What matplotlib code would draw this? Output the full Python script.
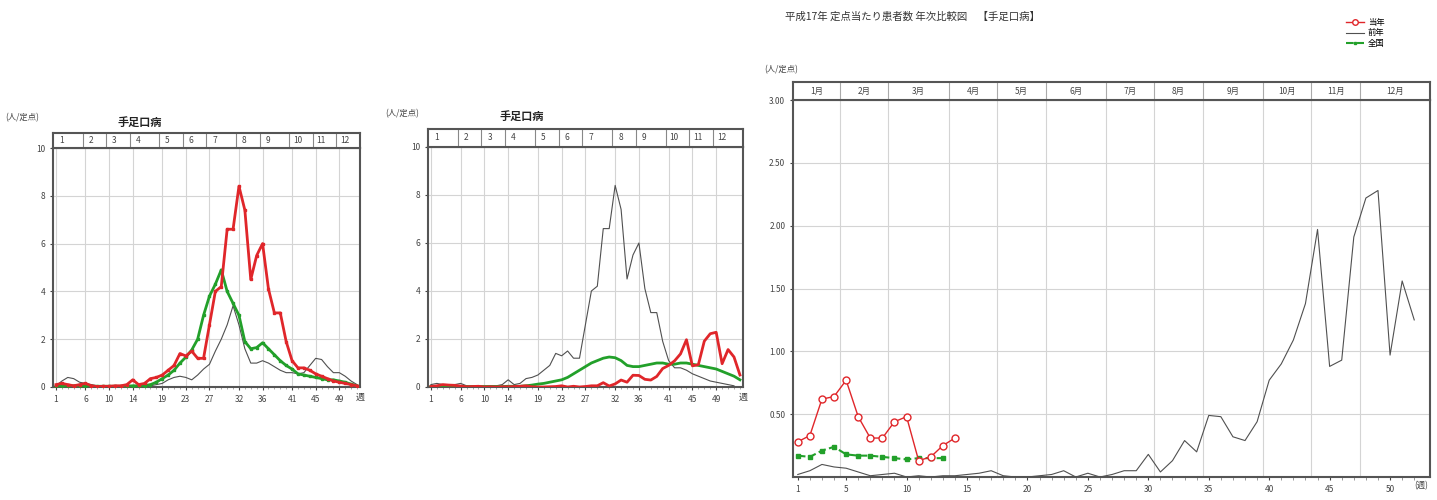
import matplotlib
matplotlib.use("Agg")
import matplotlib.pyplot as plt
import matplotlib.transforms as mtransforms
import numpy as np

plt.rcParams['font.family'] = ['Noto Sans CJK JP', 'DejaVu Sans']

# ---- data (人/定点, weekly) ----
# 2002 (left chart, thin line)
y2002 = [0.05, 0.25, 0.4, 0.35, 0.2, 0.15, 0.1, 0.05, 0.05, 0.05,
         0.03, 0.03, 0.05, 0.05, 0.05, 0.05, 0.05, 0.1, 0.15, 0.3,
         0.4, 0.45, 0.4, 0.3, 0.5, 0.75, 0.95, 1.5, 2.0, 2.6,
         3.4, 2.6, 1.6, 1.0, 1.0, 1.1, 1.0, 0.85, 0.7, 0.6,
         0.6, 0.55, 0.6, 0.9, 1.2, 1.15, 0.85, 0.6, 0.6, 0.45,
         0.25, 0.1]
# 2003 (left chart red, middle chart thin line)
y2003 = [0.1, 0.15, 0.1, 0.05, 0.1, 0.15, 0.05, 0.02, 0.03, 0.03,
         0.05, 0.05, 0.1, 0.3, 0.1, 0.15, 0.35, 0.4, 0.5, 0.7,
         0.9, 1.4, 1.3, 1.5, 1.2, 1.2, 2.6, 4.0, 4.2, 6.6,
         6.6, 8.4, 7.4, 4.5, 5.5, 6.0, 4.1, 3.1, 3.1, 1.9,
         1.1, 0.8, 0.8, 0.7, 0.55, 0.45, 0.35, 0.25, 0.2, 0.15,
         0.1, 0.05]
nat2003 = [0.03, 0.04, 0.05, 0.05, 0.05, 0.04, 0.03, 0.03, 0.03, 0.03,
           0.03, 0.03, 0.04, 0.05, 0.05, 0.06, 0.1, 0.2, 0.35, 0.5,
           0.7, 1.0, 1.25, 1.55, 2.0, 3.0, 3.8, 4.3, 4.9, 4.0,
           3.5, 3.0, 1.9, 1.6, 1.65, 1.85, 1.6, 1.35, 1.1, 0.9,
           0.75, 0.55, 0.5, 0.45, 0.4, 0.35, 0.3, 0.3, 0.25, 0.2,
           0.12, 0.05]
# 2004 (middle chart red, right chart 前年) - 53 weeks
y2004 = [0.02, 0.05, 0.1, 0.08, 0.07, 0.04, 0.01, 0.02, 0.03, 0.0,
         0.01, 0.0, 0.01, 0.01, 0.02, 0.03, 0.05, 0.01, 0.0, 0.0,
         0.01, 0.02, 0.05, 0.0, 0.03, 0.0, 0.02, 0.05, 0.05, 0.18,
         0.04, 0.13, 0.29, 0.2, 0.49, 0.48, 0.32, 0.29, 0.44, 0.77,
         0.9, 1.09, 1.38, 1.97, 0.88, 0.93, 1.91, 2.22, 2.28, 0.97,
         1.56, 1.25, 0.5]
nat2004 = [0.02, 0.02, 0.03, 0.03, 0.03, 0.02, 0.02, 0.02, 0.02, 0.02,
           0.02, 0.02, 0.02, 0.03, 0.03, 0.03, 0.05, 0.08, 0.12, 0.15,
           0.2, 0.25, 0.3, 0.4, 0.55, 0.7, 0.85, 1.0, 1.1, 1.2,
           1.25, 1.22, 1.1, 0.9, 0.85, 0.85, 0.9, 0.95, 1.0, 1.0,
           0.95, 0.95, 1.0, 1.0, 0.95, 0.9, 0.85, 0.8, 0.75, 0.65,
           0.55, 0.45, 0.3]
# 2005 (right chart 当年, 全国)
y2005 = [0.28, 0.33, 0.62, 0.64, 0.77, 0.48, 0.31, 0.31, 0.44, 0.48,
         0.13, 0.16, 0.25, 0.31]
nat2005 = [0.17, 0.16, 0.21, 0.24, 0.18, 0.17, 0.17, 0.16, 0.15, 0.14,
           0.15, 0.15, 0.15]

month_start_weeks = [1, 6, 10, 14, 19, 23, 27, 32, 36, 41, 45, 49]
month_nums = ['1', '2', '3', '4', '5', '6', '7', '8', '9', '10', '11', '12']
month_bounds_2005 = [4.5, 8.5, 13.5, 17.5, 21.5, 26.5, 30.5, 34.5, 39.5, 43.5, 47.5]
month_names = ['1月', '2月', '3月', '4月', '5月', '6月', '7月', '8月', '9月', '10月', '11月', '12月']

RED = '#e0262a'
GREEN = '#22a02a'
GRAY = '#505050'
FRAME = '#555555'
TXT = '#444444'
GRID = '#d4d4d4'

fig = plt.figure(figsize=(14.37, 5.0), dpi=100)


def small_chart(rect, band_rect, nweeks, thin, red, green, red_marker):
    ax = fig.add_axes(rect)
    w_thin = np.arange(1, len(thin) + 1)
    w_red = np.arange(1, len(red) + 1)
    w_green = np.arange(1, len(green) + 1)
    ax.plot(w_thin, thin, color=GRAY, lw=0.8, zorder=3)
    ax.plot(w_green, green, color=GREEN, lw=2.0, marker=red_marker, ms=2, zorder=4)
    ax.plot(w_red, red, color=RED, lw=2.0, marker=red_marker, ms=2, zorder=5)
    ax.set_xlim(0.5, nweeks + 0.5)
    ax.set_ylim(0, 10)
    ax.set_yticks([0, 2, 4, 6, 8, 10])
    ax.set_xticks(month_start_weeks)
    ax.set_xticks(np.arange(1, nweeks + 1), minor=True)
    ax.tick_params(axis='both', labelsize=6, colors=TXT, length=2)
    ax.tick_params(axis='x', which='minor', length=1.5, color='#999999')
    ax.grid(True, color=GRID, lw=0.8)
    for s in ax.spines.values():
        s.set_color(FRAME)
        s.set_linewidth(1.5)
    ax.text(1.0, -0.025, '週', transform=ax.transAxes, ha='center', va='top',
            fontsize=6.5, color=TXT)

    band = fig.add_axes(band_rect)
    band.set_xlim(0.5, nweeks + 0.5)
    band.set_ylim(0, 1)
    band.set_xticks([])
    band.set_yticks([])
    for s in band.spines.values():
        s.set_color(FRAME)
        s.set_linewidth(1.5)
    for w in month_start_weeks[1:]:
        band.axvline(w - 0.5, color='#888888', lw=0.8)
    for w, m in zip(month_start_weeks, month_nums):
        band.text(w + 0.9, 0.5, m, ha='center', va='center', fontsize=6, color=TXT)
    return ax


# ---- left chart ----
small_chart([0.0369, 0.226, 0.2136, 0.478], [0.0369, 0.704, 0.2136, 0.03],
            52, y2002, y2003, nat2003, 's')
fig.text(0.004, 0.764, '(人/定点)', fontsize=6, color=TXT, va='center')
fig.text(0.097, 0.756, '手足口病', fontsize=8, color='#222222', weight='bold',
         ha='center', va='center')

# ---- middle chart ----
small_chart([0.2978, 0.226, 0.2192, 0.48], [0.2978, 0.706, 0.2192, 0.036],
            53, y2003, y2004, nat2004, None)
fig.text(0.268, 0.772, '(人/定点)', fontsize=6, color=TXT, va='center')
fig.text(0.363, 0.768, '手足口病', fontsize=8, color='#222222', weight='bold',
         ha='center', va='center')

# ---- right chart ----
ax = fig.add_axes([0.5518, 0.046, 0.4433, 0.754])
ax.plot(np.arange(1, 53), y2004[:52], color=GRAY, lw=0.8, label='前年', zorder=3)
ax.plot(np.arange(1, len(nat2005) + 1), nat2005, color=GREEN, lw=1.5, ls='--',
        marker='s', ms=2.5, label='全国', zorder=4)
ax.plot(np.arange(1, len(y2005) + 1), y2005, color=RED, lw=1.0, marker='o', ms=5,
        mfc='white', mec=RED, mew=1.0, label='当年', zorder=5)
ax.set_xlim(0.6, 53.3)
ax.set_ylim(0, 3)
ax.set_yticks([0.5, 1.0, 1.5, 2.0, 2.5, 3.0])
ax.set_yticklabels(['0.50', '1.00', '1.50', '2.00', '2.50', '3.00'])
ax.set_xticks([1, 5, 10, 15, 20, 25, 30, 35, 40, 45, 50])
ax.set_xticks(np.arange(1, 53), minor=True)
ax.tick_params(axis='both', labelsize=6, colors=TXT, length=2)
ax.tick_params(axis='x', which='minor', length=2, color='#888888')
ax.grid(False)
for y in [0.5, 1.0, 1.5, 2.0, 2.5]:
    ax.axhline(y, color=GRID, lw=0.8, zorder=1)
for b in month_bounds_2005:
    ax.axvline(b, color=GRID, lw=0.8, zorder=1)
for s in ax.spines.values():
    s.set_color(FRAME)
    s.set_linewidth(1.5)
ax.text(52.6, -0.012, '(週)', transform=mtransforms.blended_transform_factory(ax.transData, ax.transAxes),
        ha='center', va='top', fontsize=6, color=TXT)

band = fig.add_axes([0.5518, 0.8, 0.4433, 0.036])
band.set_xlim(0.6, 53.3)
band.set_ylim(0, 1)
band.set_xticks([])
band.set_yticks([])
for s in band.spines.values():
    s.set_color(FRAME)
    s.set_linewidth(1.5)
edges = [0.6] + month_bounds_2005 + [53.3]
for b in month_bounds_2005:
    band.axvline(b, color='#aaaaaa', lw=0.8)
for i, m in enumerate(month_names):
    band.text((edges[i] + edges[i + 1]) / 2, 0.5, m, ha='center', va='center',
              fontsize=6, color=TXT)

fig.text(0.532, 0.86, '(人/定点)', fontsize=6, color=TXT, va='center')
fig.text(0.546, 0.966, '平成17年 定点当たり患者数 年次比較図　【手足口病】',
         fontsize=7.5, color='#333333', va='center')

handles, labels = ax.get_legend_handles_labels()
order = [2, 0, 1]
ax.legend([handles[i] for i in order], [labels[i] for i in order], loc='center',
          bbox_to_anchor=(0.95, 0.934), bbox_transform=fig.transFigure,
          frameon=False, fontsize=6, handlelength=2.2, labelspacing=0.15,
          handletextpad=0.4, markerscale=0.8)

fig.savefig('out.png', dpi=100)
